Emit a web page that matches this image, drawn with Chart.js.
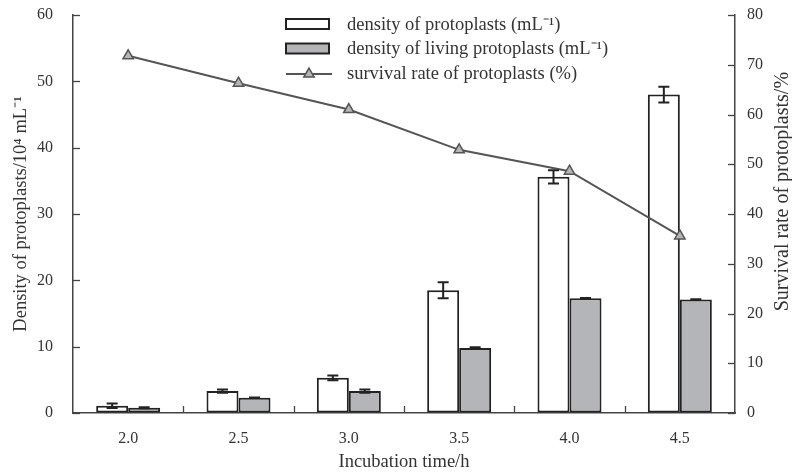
<!DOCTYPE html>
<html>
<head>
<meta charset="utf-8">
<script src="https://cdn.jsdelivr.net/npm/chart.js@4/dist/chart.umd.min.js"></script>
<style>
html,body{margin:0;padding:0;background:#fff;}
#wrap{width:792px;height:473px;position:relative;}
</style>
</head>
<body>
<div id="wrap"><canvas id="c" width="792" height="473"></canvas></div>
<script>
const categories = ['2.0', '2.5', '3.0', '3.5', '4.0', '4.5'];
const totalDensity = [1.1, 3.3, 5.3, 18.5, 35.6, 48.0];
const totalDensityErr = [0.35, 0.25, 0.35, 1.2, 1.0, 1.2];
const livingDensity = [0.8, 2.3, 3.3, 9.8, 17.3, 17.1];
const livingDensityErr = [0.08, 0.05, 0.25, 0.1, 0.05, 0.05];
const survivalRate = [71.8, 66.3, 61.0, 52.9, 48.6, 35.6];
const seriesLabels = ['density of protoplasts (mL\u207B\u00B9)', 'density of living protoplasts (mL\u207B\u00B9)', 'survival rate of protoplasts (%)'];
const leftTitle = 'Density of protoplasts/10\u2074 mL\u207B\u00B9';
const rightTitle = 'Survival rate of protoplasts/%';
const xTitle = 'Incubation time/h';

const FONT = 'Liberation Serif, Times New Roman, serif';
const TEXT = '#333';
const AXIS = '#444';
const TICK_SIZE = 16;
const TITLE_SIZE = 18.5;

const innerTicks = {
  id: 'innerTicks',
  afterDraw(chart) {
    const {ctx, chartArea: a, scales} = chart;
    ctx.save();
    ctx.strokeStyle = AXIS;
    ctx.lineWidth = 1.3;
    const len = 7;
    scales.y.ticks.forEach(t => {
      const y = Math.round(scales.y.getPixelForValue(t.value)) + 0.5;
      ctx.beginPath(); ctx.moveTo(a.left, y); ctx.lineTo(a.left + len, y); ctx.stroke();
    });
    scales.y1.ticks.forEach(t => {
      const y = Math.round(scales.y1.getPixelForValue(t.value)) + 0.5;
      ctx.beginPath(); ctx.moveTo(a.right - len, y); ctx.lineTo(a.right, y); ctx.stroke();
    });
    for (let i = 1; i < categories.length; i++) {
      const x = Math.round((scales.x.getPixelForValue(i - 1) + scales.x.getPixelForValue(i)) / 2) + 0.5;
      ctx.beginPath(); ctx.moveTo(x, a.bottom); ctx.lineTo(x, a.bottom - len); ctx.stroke();
    }
    ctx.restore();
  }
};

const rightAxisTitle = {
  id: 'rightAxisTitle',
  afterDraw(chart) {
    const {ctx, scales} = chart;
    const s = scales.y1;
    const x = s.right - 9;
    const y = s.getPixelForValue(44.5);
    ctx.save();
    ctx.translate(x, y);
    ctx.rotate(-Math.PI / 2);
    ctx.font = '20px ' + FONT;
    ctx.fillStyle = TEXT;
    ctx.textAlign = 'center';
    ctx.textBaseline = 'middle';
    ctx.fillText(rightTitle, 0, 0);
    ctx.restore();
  }
};

const errorBars = {
  id: 'errorBars',
  afterDatasetsDraw(chart) {
    const {ctx, scales} = chart;
    const sets = [[1, totalDensity, totalDensityErr], [2, livingDensity, livingDensityErr]];
    ctx.save();
    ctx.strokeStyle = '#222';
    ctx.lineWidth = 2;
    sets.forEach(([di, vals, errs]) => {
      const meta = chart.getDatasetMeta(di);
      meta.data.forEach((bar, j) => {
        const x = bar.x;
        const yt = scales.y.getPixelForValue(vals[j] + errs[j]);
        const yb = scales.y.getPixelForValue(vals[j] - errs[j]);
        const hw = 5.5;
        ctx.beginPath();
        ctx.moveTo(x, yt); ctx.lineTo(x, yb);
        ctx.moveTo(x - hw, yt); ctx.lineTo(x + hw, yt);
        ctx.moveTo(x - hw, yb); ctx.lineTo(x + hw, yb);
        ctx.stroke();
      });
    });
    ctx.restore();
  }
};

function tri(ctx, x, y, r) {
  let rad = 0;
  ctx.beginPath();
  ctx.moveTo(x + Math.sin(rad) * r, y - Math.cos(rad) * r);
  rad += 2 * Math.PI / 3;
  ctx.lineTo(x + Math.sin(rad) * r, y - Math.cos(rad) * r);
  rad += 2 * Math.PI / 3;
  ctx.lineTo(x + Math.sin(rad) * r, y - Math.cos(rad) * r);
  ctx.closePath();
}

const customLegend = {
  id: 'customLegend',
  afterDraw(chart) {
    const {ctx, chartArea: a} = chart;
    const bx = a.left + 213, bw = 43, bh = 10, tx = a.left + 274;
    const rows = [a.top + 9, a.top + 33.5, a.top + 58];
    ctx.save();
    ctx.font = TITLE_SIZE + 'px ' + FONT;
    ctx.textBaseline = 'middle';
    ctx.textAlign = 'left';
    ctx.lineWidth = 2;
    ctx.strokeStyle = '#222';
    ctx.fillStyle = '#fff';
    ctx.fillRect(bx, rows[0] - bh / 2, bw, bh);
    ctx.strokeRect(bx, rows[0] - bh / 2, bw, bh);
    ctx.fillStyle = '#b4b5b8';
    ctx.fillRect(bx, rows[1] - bh / 2, bw, bh);
    ctx.strokeRect(bx, rows[1] - bh / 2, bw, bh);
    ctx.strokeStyle = '#555';
    ctx.lineWidth = 2;
    ctx.beginPath(); ctx.moveTo(bx, rows[2] + 1); ctx.lineTo(bx + bw + 3, rows[2] + 1); ctx.stroke();
    tri(ctx, bx + (bw + 3) / 2, rows[2] + 1, 6);
    ctx.fillStyle = '#b5b5b5';
    ctx.fill();
    ctx.lineWidth = 1.5;
    ctx.stroke();
    ctx.fillStyle = TEXT;
    for (let i = 0; i < 3; i++) ctx.fillText(seriesLabels[i], tx, rows[i] + 1);
    ctx.restore();
  }
};

function fitY(w) {
  return function (s) { s.width = w; s.paddingTop = 0; s.paddingBottom = 0; };
}

new Chart(document.getElementById('c'), {
  data: {
    labels: categories,
    datasets: [
      {
        type: 'line', label: seriesLabels[2], data: survivalRate, yAxisID: 'y1', order: 0,
        borderColor: '#555', borderWidth: 2, tension: 0,
        pointStyle: 'triangle', pointRadius: 6, pointBackgroundColor: '#b5b5b5',
        pointBorderColor: '#555', pointBorderWidth: 1.5
      },
      {
        type: 'bar', label: seriesLabels[0], data: totalDensity, yAxisID: 'y', order: 1,
        backgroundColor: '#fff', borderColor: '#222', borderWidth: 2, borderSkipped: false,
        barPercentage: 1.0, categoryPercentage: 0.58
      },
      {
        type: 'bar', label: seriesLabels[1], data: livingDensity, yAxisID: 'y', order: 2,
        backgroundColor: '#b4b5b8', borderColor: '#222', borderWidth: 2, borderSkipped: false,
        barPercentage: 1.0, categoryPercentage: 0.58
      }
    ]
  },
  options: {
    responsive: false,
    animation: false,
    layout: { padding: { top: 15, left: 0, right: 0, bottom: 0 } },
    plugins: { legend: { display: false }, tooltip: { enabled: false } },
    scales: {
      x: {
        type: 'category',
        offset: true,
        grid: { display: true, drawOnChartArea: false, drawTicks: false },
        border: { display: true, color: AXIS, width: 1.5 },
        ticks: { color: TEXT, font: { family: FONT, size: TICK_SIZE }, padding: 16 },
        title: { display: true, text: xTitle, color: TEXT, font: { family: FONT, size: TITLE_SIZE }, padding: { top: 0, bottom: 0 } },
        afterFit(s) { s.height = 60; s.paddingLeft = 0; s.paddingRight = 0; }
      },
      y: {
        position: 'left', min: 0, max: 60,
        grid: { display: true, drawOnChartArea: false, drawTicks: false },
        border: { display: true, color: AXIS, width: 1.5 },
        ticks: { stepSize: 10, color: TEXT, font: { family: FONT, size: TICK_SIZE }, padding: 20 },
        title: { display: true, text: leftTitle, color: TEXT, font: { family: FONT, size: TITLE_SIZE }, padding: { top: 10, bottom: 0 } },
        afterFit: fitY(73)
      },
      y1: {
        position: 'right', min: 0, max: 80,
        grid: { display: true, drawOnChartArea: false, drawTicks: false },
        border: { display: true, color: AXIS, width: 1.5 },
        ticks: { stepSize: 10, color: TEXT, font: { family: FONT, size: TICK_SIZE }, padding: 12 },
        title: { display: false },
        afterFit: fitY(57)
      }
    }
  },
  plugins: [innerTicks, errorBars, customLegend, rightAxisTitle]
});
</script>
</body>
</html>
